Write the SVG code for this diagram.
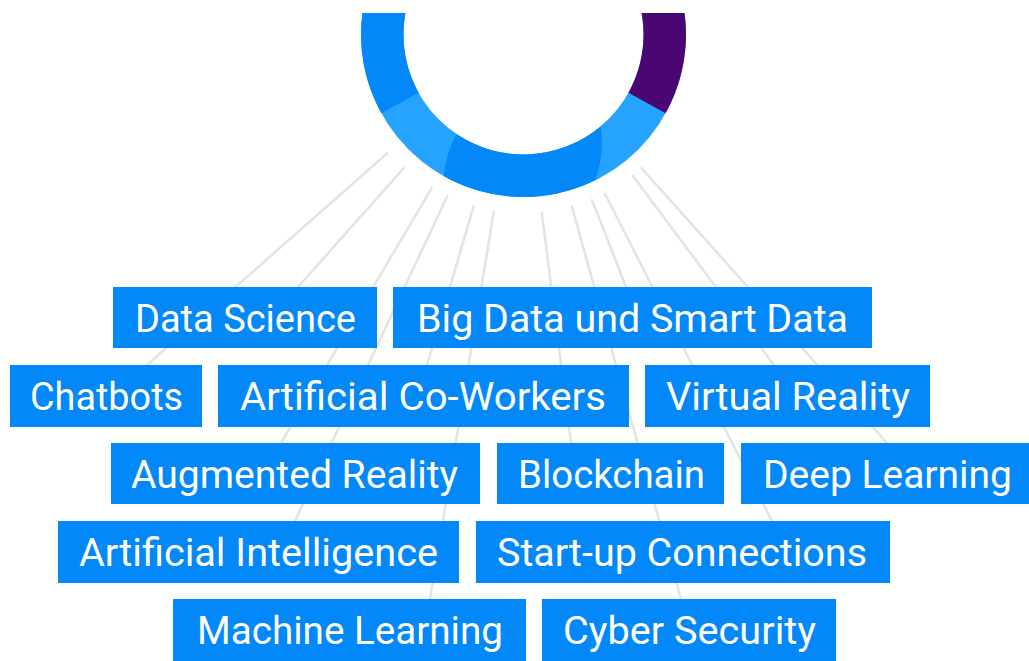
<svg xmlns="http://www.w3.org/2000/svg" width="1029" height="661" viewBox="0 0 1029 661">
<defs>
<style>
.box{fill:#0288f8}
.lbl{fill:#ffffff;font-family:Roboto,"Liberation Sans",sans-serif;font-size:38.5px;font-weight:400}
.ln{stroke:#e4e4e4;stroke-width:2.6;fill:none;stroke-linecap:round}
</style>
<clipPath id="top"><rect x="0" y="13" width="1029" height="648"/></clipPath>
</defs>
<rect width="1029" height="661" fill="#ffffff"/>
<g id="ring" clip-path="url(#top)">
<circle cx="523.5" cy="34.5" r="141.25" fill="none" stroke="#26a3ff" stroke-width="42.5"/>
<path fill="#0288f8" d="M523.5,-128 A162.5,162.5 0 0 0 381.4,113.3 L418.5,92.7 A120,120 0 0 1 523.5,-85.5 Z"/>
<path fill="#0288f8" d="M443.5,175.9 A162.5,162.5 0 0 0 594.7,180.6 Q605,155 600.6,126.4 A120,120 0 0 1 456.4,134 Q446,154 443.5,175.9 Z"/>
<path fill="#4a0673" d="M523.5,-128 A162.5,162.5 0 0 1 665.6,113.3 L628.5,92.7 A120,120 0 0 0 523.5,-85.5 Z"/>
</g>
<g id="connectors">
<line class="ln" x1="387.2" y1="153.3" x2="147" y2="365"/>
<line class="ln" x1="403.6" y1="168.3" x2="298" y2="287"/>
<line class="ln" x1="431.6" y1="188.3" x2="281" y2="443"/>
<line class="ln" x1="447" y1="196.7" x2="295" y2="521"/>
<line class="ln" x1="473.5" y1="206.7" x2="427" y2="365"/>
<line class="ln" x1="493.9" y1="211" x2="430" y2="599"/>
<line class="ln" x1="541.8" y1="212.7" x2="571" y2="443"/>
<line class="ln" x1="572" y1="206.7" x2="681" y2="599"/>
<line class="ln" x1="592" y1="200" x2="626" y2="287"/>
<line class="ln" x1="605" y1="194" x2="772" y2="521"/>
<line class="ln" x1="633" y1="176" x2="774" y2="365"/>
<line class="ln" x1="641.8" y1="168.3" x2="887" y2="443"/>
</g>
<g id="data-science"><rect class="box" x="113" y="287" width="264" height="61"/><text class="lbl" x="135" y="332" textLength="221" lengthAdjust="spacingAndGlyphs">Data Science</text></g>
<g id="big-data"><rect class="box" x="393" y="287" width="479" height="61"/><text class="lbl" x="417" y="332" textLength="431" lengthAdjust="spacingAndGlyphs">Big Data und Smart Data</text></g>
<g id="chatbots"><rect class="box" x="10" y="365" width="192" height="62"/><text class="lbl" x="30" y="410" textLength="153" lengthAdjust="spacingAndGlyphs">Chatbots</text></g>
<g id="co-workers"><rect class="box" x="218" y="365" width="411" height="62"/><text class="lbl" x="240" y="410" textLength="366" lengthAdjust="spacingAndGlyphs">Artificial Co-Workers</text></g>
<g id="virtual-reality"><rect class="box" x="645" y="365" width="285" height="62"/><text class="lbl" x="666" y="410" textLength="244" lengthAdjust="spacingAndGlyphs">Virtual Reality</text></g>
<g id="augmented-reality"><rect class="box" x="111" y="443" width="369" height="61"/><text class="lbl" x="131" y="488" textLength="327" lengthAdjust="spacingAndGlyphs">Augmented Reality</text></g>
<g id="blockchain"><rect class="box" x="497" y="443" width="227" height="61"/><text class="lbl" x="518" y="488" textLength="187" lengthAdjust="spacingAndGlyphs">Blockchain</text></g>
<g id="deep-learning"><rect class="box" x="741" y="443" width="292" height="61"/><text class="lbl" x="763" y="488" textLength="249" lengthAdjust="spacingAndGlyphs">Deep Learning</text></g>
<g id="artificial-intelligence"><rect class="box" x="58" y="521" width="401" height="62"/><text class="lbl" x="79" y="566" textLength="359" lengthAdjust="spacingAndGlyphs">Artificial Intelligence</text></g>
<g id="start-up"><rect class="box" x="476" y="521" width="414" height="62"/><text class="lbl" x="497" y="566" textLength="370" lengthAdjust="spacingAndGlyphs">Start-up Connections</text></g>
<g id="machine-learning"><rect class="box" x="173" y="599" width="353" height="62"/><text class="lbl" x="197" y="644" textLength="306" lengthAdjust="spacingAndGlyphs">Machine Learning</text></g>
<g id="cyber-security"><rect class="box" x="542" y="599" width="294" height="62"/><text class="lbl" x="563" y="644" textLength="253" lengthAdjust="spacingAndGlyphs">Cyber Security</text></g>
</svg>
